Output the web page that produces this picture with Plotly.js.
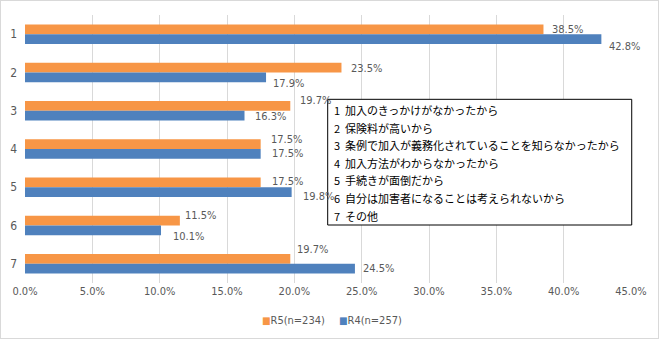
<!DOCTYPE html>
<html>
<head>
<meta charset="utf-8">
<script src="https://cdn.plot.ly/plotly-3.0.1.min.js"></script>
<style>
html,body{margin:0;padding:0;background:#fff;}
#frame{position:absolute;left:0;top:0;width:659px;height:339px;box-sizing:border-box;border:1px solid #d9d9d9;background:#fff;}
#chart{position:absolute;left:0;top:0;width:657px;height:337px;}
</style>
</head>
<body>
<div id="frame"><div id="chart"></div></div>
<script>
// ---- data ----
const categories = ['1','2','3','4','5','6','7'];
const seriesNames = ['R5(n=234)','R4(n=257)'];
const valuesR5 = [38.5, 23.5, 19.7, 17.5, 17.5, 11.5, 19.7];
const valuesR4 = [42.8, 17.9, 16.3, 17.5, 19.8, 10.1, 24.5];
const xTickVals = [0,5,10,15,20,25,30,35,40,45];
const xTickText = ['0.0%','5.0%','10.0%','15.0%','20.0%','25.0%','30.0%','35.0%','40.0%','45.0%'];
const reasons = [
  '1 加入のきっかけがなかったから',
  '2 保険料が高いから',
  '3 条例で加入が義務化されていることを知らなかったから',
  '4 加入方法がわからなかったから',
  '5 手続きが面倒だから',
  '6 自分は加害者になることは考えられないから',
  '7 その他'
];

// ---- label placement (pixels) ----
const r5LabelDx = [7, 8, 8, 8, 9, 3, 5];
const r5LabelDy = [0, 1, -5.5, -4.5, -1, -5, -9];
const r4LabelDx = [6, 5, 8, 9, 9, 10, 6];
const r4LabelDy = [7.5, 6, 1, 0, 4, 6, 0];

const orange = '#F79646';
const blue = '#4F81BD';
const colors = [orange, blue];
const txt = '#595959';
const numFont = "'Liberation Sans Narrow','DejaVu Sans Condensed','Noto Sans CJK JP',sans-serif";
const jpFont = "'Noto Sans CJK JP','Noto Sans',sans-serif";

const traces = [
  {type:'bar', orientation:'h', name:seriesNames[0], x:valuesR5, y:categories,
   marker:{color:orange}, hoverinfo:'none'},
  {type:'bar', orientation:'h', name:seriesNames[1], x:valuesR4, y:categories,
   marker:{color:blue}, hoverinfo:'none'}
];

const halfBar = 4.9;
const annotations = [];
categories.forEach((c,i)=>{
  annotations.push({x:valuesR5[i], y:i, xref:'x', yref:'y', text:valuesR5[i].toFixed(1)+'%',
    showarrow:false, xanchor:'left', yanchor:'middle', xshift:r5LabelDx[i], yshift:halfBar - r5LabelDy[i],
    font:{family:numFont, size:11, color:txt}});
  annotations.push({x:valuesR4[i], y:i, xref:'x', yref:'y', text:valuesR4[i].toFixed(1)+'%',
    showarrow:false, xanchor:'left', yanchor:'middle', xshift:r4LabelDx[i], yshift:-halfBar - r4LabelDy[i],
    font:{family:numFont, size:11, color:txt}});
});

// text box lines
const plotH = 268, plotBottom = 282, plotLeft = 24, plotW = 606;
reasons.forEach((t,i)=>{
  const yPix = 109 + 17.6*i;
  annotations.push({x:0.5066, y:(plotBottom - yPix)/plotH, xref:'paper', yref:'paper',
    text:t.replace(' ', '&nbsp;&nbsp;'),
    showarrow:false, xanchor:'left', yanchor:'middle', align:'left',
    font:{family:jpFont, size:11, color:'#000'}});
});

// legend (drawn as text items)
const legendX = [259, 336];
seriesNames.forEach((n,i)=>{
  annotations.push({x:(legendX[i]-plotLeft)/plotW, y:(plotBottom-319.5)/plotH, xref:'paper', yref:'paper',
    text:'<span style="color:'+colors[i]+';font-size:10px">■</span>'+n,
    showarrow:false, xanchor:'left', yanchor:'middle',
    font:{family:numFont, size:11, color:txt}});
});

const layout = {
  width:657, height:337,
  margin:{l:24, r:27, t:14, b:55},
  paper_bgcolor:'#fff', plot_bgcolor:'#fff',
  barmode:'group', bargap:0.49, bargroupgap:0,
  showlegend:false,
  xaxis:{range:[0,45], tickvals:xTickVals, ticktext:xTickText, showgrid:true, gridcolor:'#d9d9d9',
    gridwidth:1, zeroline:false, showline:false, ticks:'', fixedrange:true,
    tickfont:{family:numFont, size:11, color:txt}},
  yaxis:{type:'category', categoryorder:'array', categoryarray:categories, range:[6.5,-0.5], autorange:false,
    showgrid:false, zeroline:false, showline:false, ticks:'', ticklabelstandoff:7,
    tickfont:{family:numFont, size:12, color:txt}, fixedrange:true},
  shapes:[{type:'rect', xref:'paper', yref:'paper', x0:0.4995, x1:1.0012, y0:0.2164, y1:0.6854,
    line:{color:'#000', width:1}, fillcolor:'#fff', layer:'above'}],
  annotations:annotations
};

Plotly.newPlot('chart', traces, layout, {displayModeBar:false, staticPlot:true});
</script>
</body>
</html>
